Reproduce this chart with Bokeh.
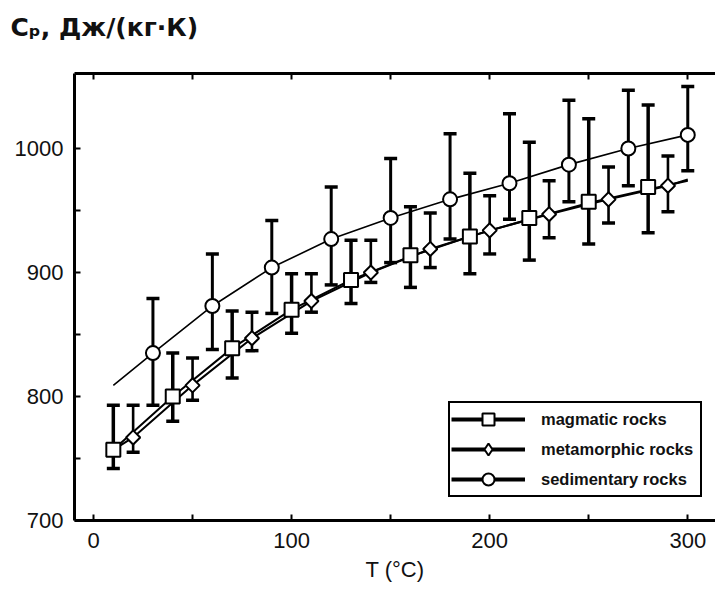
from bokeh.plotting import figure
from bokeh.models import (Range1d, LinearAxis, FixedTicker, Whisker, TeeHead, Title,
                          ColumnDataSource, Legend, LegendItem)
from bokeh.embed import file_html
from bokeh.resources import INLINE
import math

# ---- data ----
mag_T = [10, 40, 70, 100, 130, 160, 190, 220, 250, 280]
mag_cp = [757, 800, 839, 870, 894, 914, 929, 944, 957, 969]
mag_hi = [793, 835, 869, 899, 926, 953, 980, 1005, 1024, 1035]
mag_lo = [742, 780, 815, 851, 875, 888, 899, 910, 923, 932]

met_T = [20, 50, 80, 110, 140, 170, 200, 230, 260, 290]
met_cp = [767, 809, 847, 877, 900, 919, 934, 947, 959, 970]
met_hi = [793, 831, 868, 899, 926, 948, 962, 974, 985, 994]
met_lo = [755, 797, 837, 868, 892, 904, 915, 928, 940, 949]

sed_T = [30, 60, 90, 120, 150, 180, 210, 240, 270, 300]
sed_cp = [835, 873, 904, 927, 944, 959, 972, 987, 1000, 1011]
sed_hi = [879, 915, 942, 969, 992, 1012, 1028, 1039, 1047, 1050]
sed_lo = [793, 838, 867, 890, 908, 927, 943, 957, 970, 982]

# fitted curves
mag_fit_T = [10, 40, 70, 100, 130, 160, 190, 220, 250, 280, 300]
mag_fit_cp = [757, 800, 839, 870, 894, 913, 929, 943, 956, 967, 974]
met_fit_T = [10, 20, 50, 80, 110, 140, 170, 200, 230, 260, 290, 300]
met_fit_cp = [757, 767, 809, 847, 877, 900, 919, 934, 947, 959, 970, 975]
sed_fit_T = [10, 30, 60, 90, 120, 150, 180, 210, 240, 270, 300]
sed_fit_cp = [809, 835, 873, 904, 927, 944, 959, 972, 987, 1000, 1011]

x_ticks = [0, 100, 200, 300]
x_minor = [50, 150, 250]
y_ticks = [700, 800, 900, 1000]
y_minor = [750, 850, 950]

series_names = ["magmatic rocks", "metamorphic rocks", "sedimentary rocks"]
y_title = "Cₚ, Дж/(кг·К)"
x_title = "T (°C)"

FONT = "Liberation Sans"
TXT = "#111111"

X0, X1 = -9.6, 314
Y0, Y1 = 700, 1060.5

p = figure(width=715, height=589, x_range=Range1d(X0, X1), y_range=Range1d(Y0, Y1),
           output_backend="svg", toolbar_location=None,
           x_axis_location=None, y_axis_location=None,
           min_border_left=74, min_border_right=0, min_border_top=73, min_border_bottom=69)
p.outline_line_color = None
p.xgrid.visible = False
p.ygrid.visible = False
p.background_fill_color = "white"
p.border_fill_color = "white"


def style_axis(ax):
    ax.axis_line_width = 3
    ax.axis_line_color = "black"
    ax.major_tick_in = 6
    ax.major_tick_out = 0
    ax.minor_tick_in = 6
    ax.minor_tick_out = 0
    ax.major_tick_line_width = 2
    ax.minor_tick_line_width = 2
    ax.major_tick_line_color = "black"
    ax.minor_tick_line_color = "black"
    ax.major_label_text_font = FONT
    ax.major_label_text_font_size = "22px"
    ax.major_label_text_color = TXT
    ax.axis_label_text_font = FONT
    ax.axis_label_text_font_size = "22px"
    ax.axis_label_text_font_style = "normal"
    ax.axis_label_text_color = TXT


xb = LinearAxis(ticker=FixedTicker(ticks=x_ticks, minor_ticks=x_minor), axis_label=x_title)
style_axis(xb)
xb.major_label_standoff = 12
xb.axis_label_standoff = 6
p.add_layout(xb, "below")

yl = LinearAxis(ticker=FixedTicker(ticks=y_ticks, minor_ticks=y_minor))
style_axis(yl)
yl.major_label_standoff = 11
p.add_layout(yl, "left")

# top frame line: an axis with only (unlabelled) minor ticks
xa = LinearAxis(ticker=FixedTicker(ticks=[], minor_ticks=x_ticks + x_minor))
style_axis(xa)
p.add_layout(xa, "above")

# chart title (quantity and unit of the y axis)
ttl = Title(text=y_title, align="left", offset=-64, standoff=23, vertical_align="top",
            text_font="DejaVu Sans", text_font_size="25px", text_font_style="bold",
            text_color=TXT)
try:
    ttl.padding = dict(left=0, right=0, top=0, bottom=18)
except Exception:
    pass
p.add_layout(ttl, "above")

# fitted curves
p.line(mag_fit_T, mag_fit_cp, line_color="black", line_width=2)
p.line(met_fit_T, met_fit_cp, line_color="black", line_width=2)
p.line(sed_fit_T, sed_fit_cp, line_color="black", line_width=1.6)

# error bars
for T, lo, hi, lw in [(mag_T, mag_lo, mag_hi, 3.5), (met_T, met_lo, met_hi, 2.6),
                      (sed_T, sed_lo, sed_hi, 3)]:
    src = ColumnDataSource(dict(x=T, lo=lo, hi=hi))
    w = Whisker(source=src, base="x", upper="hi", lower="lo", dimension="height",
                line_color="black", line_width=lw,
                upper_head=TeeHead(size=13, line_color="black", line_width=3.5),
                lower_head=TeeHead(size=13, line_color="black", line_width=3.5))
    w.level = "underlay"
    p.add_layout(w)

# markers
p.scatter(mag_T, mag_cp, marker="square", size=14, fill_color="white",
          line_color="black", line_width=2)
p.scatter(met_T, met_cp, marker="square", size=10, angle=math.pi / 4, fill_color="white",
          line_color="black", line_width=2)
p.scatter(sed_T, sed_cp, marker="circle", size=14, fill_color="white",
          line_color="black", line_width=2)

# legend (hidden renderers with thicker line, drawn only in the legend)
items = []
for name, T, cp, mk in zip(series_names, [mag_T, met_T, sed_T], [mag_cp, met_cp, sed_cp],
                           ["square", "diamond", "circle"]):
    r1 = p.line(T, cp, line_color="black", line_width=4, visible=False)
    r2 = p.scatter(T, cp, marker=mk, size=12, fill_color="white",
                   line_color="black", line_width=2, visible=False)
    items.append(LegendItem(label=name, renderers=[r1, r2]))

legend = Legend(items=items, location=(374, 23), margin=0, padding=1, spacing=0,
                glyph_width=74, glyph_height=30, label_height=30, label_standoff=16,
                label_width=158,
                label_text_font=FONT, label_text_font_size="16.5px",
                label_text_font_style="bold", label_text_color=TXT,
                border_line_color="black", border_line_width=2, border_line_alpha=1,
                background_fill_color="white", background_fill_alpha=1,
                inactive_fill_alpha=0)
p.add_layout(legend)

open("out.html", "w").write(file_html(p, INLINE))
